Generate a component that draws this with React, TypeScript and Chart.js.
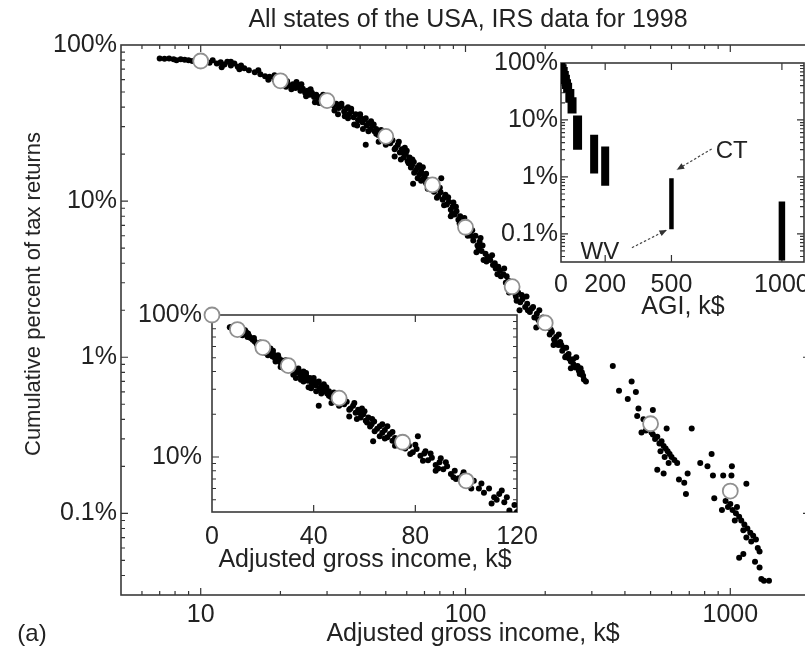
import React, { useEffect, useRef } from 'react';
import { Chart, registerables } from 'chart.js';

Chart.register(...registerables);

const FONT = "'Liberation Sans', Arial, Helvetica, sans-serif";
const INK = '#222';
const TICK_SIZE = 25;

// ---- State-level points (AGI k$, cumulative % of returns) ----
const mainX = [
  7.0, 7.3, 7.6, 7.9, 8.1, 8.4, 8.7, 9.0, 9.3, 9.6, 9.9,
  10.4, 10.8, 11.1, 11.5, 11.9, 12.3, 12.6, 13, 13.4, 13.8, 14.2, 14.6, 15.2, 16, 16.8, 17.5, 18.2, 19, 19.6,
  20.6, 21.2, 21.8, 22.3, 22.8, 23.3, 23.8, 24.3, 24.8, 25.3, 25.8, 26.3, 26.8, 27.3, 27.8, 28.3, 28.8, 29.4, 30.3, 24, 27, 22, 29,
  31, 31.8, 32.5, 33.2, 34, 34.8, 35.5, 36.3, 37, 37.8, 38.5, 39.3, 40, 40.8, 41.5, 42, 42.3, 43, 43.8, 44.5, 45.3, 46, 46.8, 47.5, 48.3, 49, 50.5, 51.3, 33, 36, 38, 44, 47, 35, 41,
  52, 53, 54, 54.5, 55.5, 56.5, 57.5, 58.5, 59.5, 60.5, 61.5, 62.2, 62.8, 63.4, 63.8, 65, 66, 67, 68, 69, 70, 71, 72, 73, 74.5, 76, 77.5, 56, 60, 66, 69, 58,
  79, 80.5, 81, 82, 83.5, 85, 86.5, 88, 89.5, 91, 92.5, 94, 95.5, 97, 98.5, 101, 103, 105, 84, 90, 96, 88,
  107, 109, 111, 113, 115, 117, 119, 121, 124, 127, 130, 133, 136, 139, 142, 145, 148, 110, 114, 126, 132, 140, 146,
  152, 155, 158, 161, 164, 168, 171, 175, 178, 182, 186, 190, 194, 198, 160, 170, 185, 190,
  204, 208, 212, 216, 220, 224, 228, 232, 236, 240, 245, 250, 255, 260, 265, 270, 275, 280, 285, 225, 250, 262, 215, 240, 272,
  12, 13, 14, 16.5, 18, 19, 21, 23, 25, 26, 28, 30, 32, 34, 36, 37, 39, 40, 42, 43, 45, 46, 48, 50, 52, 54, 57, 59, 61, 63, 64, 67, 68, 71, 72, 75, 78, 80, 83, 86, 89, 92, 95, 99, 102, 106, 112, 116, 120,
  129, 135, 143, 150, 156, 163, 172, 180, 188, 196, 202, 210, 218, 230, 238, 246, 256, 268, 278,
  360, 424, 440, 380, 410, 450, 510, 445, 462, 575, 715, 504, 470, 485, 495, 480,
  510, 520, 530, 540, 550, 560, 570, 580, 590, 600, 615, 630, 545, 565, 585, 530, 560, 640, 670, 690, 680,
  850, 770, 820, 1014, 860, 940, 1010, 1150, 870, 930,
  960, 980, 1000, 1020, 1050, 1080, 1100, 1130, 1160, 1190, 1220, 1250, 1040, 1120, 1200,
  1080, 1120, 1240, 1290, 1290, 1310, 1340, 990, 1060, 1150, 1270, 1400,
];
const mainY = [
  82, 81.5, 82, 81, 80, 81, 80.5, 80, 79, 80, 78.5,
  79, 77, 80, 76, 77.5, 75, 78, 74, 76, 72.5, 74, 71, 69, 67, 65, 63, 62.5, 60, 61,
  57, 58.5, 55, 56, 53, 54.5, 51, 52.5, 49.5, 51, 48, 49.5, 46.5, 48, 45, 46.5, 43.5, 45, 42.5, 56, 43, 52, 48,
  43.5, 41, 42, 39.5, 40.5, 37.5, 39, 36, 37.5, 34.5, 36, 33, 34.5, 32, 33.5, 23, 30.5, 31.5, 29, 30.5, 28, 29, 26.5, 28, 25.5, 27, 24.5, 25.5, 36, 40, 31, 32.5, 24, 35, 29,
  23.5, 24.5, 19.3, 22, 23, 20.5, 21.5, 19, 20, 18, 19, 16.4, 17, 12.9, 17.8, 15.8, 16.5, 14.8, 15.5, 13.8, 14.5, 13, 13.6, 12.2, 12.8, 11.5, 12, 24, 21, 14, 16.5, 20.5,
  10.8, 11.4, 14, 10.2, 10.6, 9.5, 9.9, 8.8, 9.2, 8.2, 8.6, 7.6, 8, 7.1, 7.4, 6.5, 6.8, 6.0, 11, 9.8, 7, 8,
  5.6, 6.0, 5.2, 5.5, 4.8, 4.2, 4.6, 4.4, 4.2, 3.9, 3.7, 3.8, 3.3, 3.4, 3.0, 3.1, 2.7, 4.7, 5.8, 4.5, 3.4, 3.7, 2.6,
  2.6, 2.45, 2.6, 2.25, 2.35, 2.1, 2.2, 1.95, 2.05, 1.8, 1.9, 1.7, 1.75, 1.55, 2.0, 2.45, 1.55, 2.0,
  1.55, 1.4, 1.45, 1.3, 1.35, 1.2, 1.25, 1.1, 1.15, 1.02, 1.05, 0.94, 0.97, 0.86, 0.88, 0.78, 0.8, 0.72, 0.7, 1.4, 0.85, 1.0, 1.2, 1.15, 0.85,
  72, 78, 70, 69, 60, 64, 54, 58, 47, 52, 42.5, 46, 38, 42, 34, 39, 30.5, 36, 34, 28, 31, 27, 28.5, 23, 26, 21.5, 18.5, 22, 17.5, 18.5, 15.2, 17, 13.5, 15, 12, 13.5, 10.5, 12.2, 9.4, 10.6, 8.3, 9.2, 7.2, 7.8, 6.0, 6.5, 5.0, 5.2, 4.1,
  4.0, 3.6, 3.3, 2.9, 2.3, 2.5, 2.0, 2.1, 1.75, 1.8, 1.65, 1.5, 1.25, 1.2, 1.0, 0.98, 0.9, 0.82, 0.76,
  0.88, 0.70, 0.60, 0.61, 0.54, 0.47, 0.46, 0.42, 0.33, 0.35, 0.35, 0.33, 0.40, 0.37, 0.36, 0.34,
  0.32, 0.30, 0.31, 0.28, 0.29, 0.27, 0.26, 0.25, 0.24, 0.23, 0.22, 0.21, 0.25, 0.23, 0.21, 0.19, 0.18, 0.165, 0.157, 0.18, 0.133,
  0.24, 0.21, 0.20, 0.20, 0.175, 0.175, 0.175, 0.155, 0.125, 0.105,
  0.12, 0.11, 0.115, 0.105, 0.1, 0.095, 0.09, 0.085, 0.08, 0.075, 0.072, 0.068, 0.09, 0.078, 0.066,
  0.052, 0.055, 0.049, 0.057, 0.045, 0.038, 0.037, 0.13, 0.11, 0.07, 0.06, 0.037,
];

// ---- US totals (open circles) ----
const usX = [0, 10, 20, 30, 50, 75, 100, 150, 200, 500, 1000];
const usY = [100, 79, 59, 44, 26, 12.7, 6.8, 2.83, 1.66, 0.375, 0.139];

// ---- Upper-right inset: spread over states at each AGI bin edge ----
const aggX = [0, 5, 10, 15, 20, 25, 30, 40, 50, 75, 150, 200, 500, 1000];
const aggHigh = [100, 95, 85, 72, 62, 52, 45, 35, 25, 12, 5.5, 3.4, 0.95, 0.37];
const aggLow = [88, 75, 60, 50, 42, 35, 30, 20, 13, 3, 1.15, 0.7, 0.12, 0.034];

// ---- tick labels ----
const mainXTicks = [10, 100, 1000];
const mainYTicks = [0.1, 1, 10, 100];
const linXTicks = [0, 40, 80, 120];
const linYTicks = [10, 100];
const agiXTicks = [0, 200, 500, 1000];
const agiYTicks = [0.1, 1, 10, 100];

const notes = [
  { text: 'CT', x: 773, y: 2.75, fromX: 682, fromY: 3.1, toX: 524, toY: 1.33 },
  { text: 'WV', x: 176, y: 0.048, fromX: 321, fromY: 0.057, toX: 479, toY: 0.117 },
];

const pct = (v: number) => `${v}%`;
const num = (v: number) => `${v}`;

function logMinor(min: number, max: number) {
  const out: number[] = [];
  for (let e = Math.floor(Math.log10(min)); e <= Math.ceil(Math.log10(max)); e++) {
    for (let m = 2; m <= 9; m++) {
      const v = m * Math.pow(10, e);
      if (v >= min && v <= max) out.push(v);
    }
  }
  return out;
}

const framePlugin = {
  id: 'frame',
  beforeDatasetsDraw(chart: any, _a: any, o: any) {
    const { ctx, chartArea: a } = chart;
    const sx = chart.scales.x, sy = chart.scales.y;
    ctx.save();
    if (o.bg) {
      ctx.fillStyle = '#fff';
      ctx.fillRect(a.left, a.top, a.right - a.left, a.bottom - a.top);
    }
    ctx.strokeStyle = '#333';
    ctx.lineWidth = 1.2;
    ctx.beginPath();
    const tx = (vals: number[], len: number) => {
      for (const v of vals) {
        const p = sx.getPixelForValue(v);
        if (p < a.left + 1 || p > a.right - 1) continue;
        ctx.moveTo(p, a.bottom); ctx.lineTo(p, a.bottom - len);
        ctx.moveTo(p, a.top); ctx.lineTo(p, a.top + len);
      }
    };
    const ty = (vals: number[], len: number) => {
      for (const v of vals) {
        const p = sy.getPixelForValue(v);
        if (p < a.top + 1 || p > a.bottom - 1) continue;
        ctx.moveTo(a.left, p); ctx.lineTo(a.left + len, p);
        ctx.moveTo(a.right, p); ctx.lineTo(a.right - len, p);
      }
    };
    tx(o.xMajor || [], 7); tx(o.xMinor || [], 4);
    ty(o.yMajor || [], 7); ty(o.yMinor || [], 4);
    ctx.stroke();
    ctx.lineWidth = 1.6;
    ctx.strokeStyle = '#3a3a3a';
    ctx.strokeRect(a.left, a.top, a.right - a.left, a.bottom - a.top);
    ctx.restore();
  },
};

const notePlugin = {
  id: 'notes',
  afterDatasetsDraw(chart: any, _a: any, o: any) {
    if (!o.items) return;
    const { ctx } = chart;
    const sx = chart.scales.x, sy = chart.scales.y;
    ctx.save();
    for (const n of o.items) {
      const x0 = sx.getPixelForValue(n.fromX), y0 = sy.getPixelForValue(n.fromY);
      const x1 = sx.getPixelForValue(n.toX), y1 = sy.getPixelForValue(n.toY);
      ctx.setLineDash([2.5, 2]);
      ctx.strokeStyle = '#444';
      ctx.lineWidth = 1.2;
      ctx.beginPath(); ctx.moveTo(x0, y0); ctx.lineTo(x1, y1); ctx.stroke();
      ctx.setLineDash([]);
      const ang = Math.atan2(y1 - y0, x1 - x0);
      ctx.fillStyle = '#333';
      ctx.beginPath();
      ctx.moveTo(x1, y1);
      ctx.lineTo(x1 - 8 * Math.cos(ang - 0.4), y1 - 8 * Math.sin(ang - 0.4));
      ctx.lineTo(x1 - 8 * Math.cos(ang + 0.4), y1 - 8 * Math.sin(ang + 0.4));
      ctx.closePath(); ctx.fill();
      ctx.font = `24px ${FONT}`;
      ctx.textAlign = 'center';
      ctx.textBaseline = 'middle';
      ctx.fillStyle = INK;
      ctx.fillText(n.text, sx.getPixelForValue(n.x), sy.getPixelForValue(n.y));
    }
    ctx.restore();
  },
};

function axis(type: string, min: number, max: number, ticks: number[], fmt: (v: number) => string, size: number, isX: boolean, pad: number) {
  return {
    type, min, max,
    grid: { display: false, drawTicks: false },
    border: { display: false },
    ticks: {
      color: INK,
      font: { family: FONT, size: TICK_SIZE },
      padding: pad,
      autoSkip: false,
      maxRotation: 0,
      minRotation: 0,
      callback: (v: any) => fmt(Number(v)),
    },
    afterBuildTicks: (s: any) => { s.ticks = ticks.map((v) => ({ value: v })); },
    afterFit: (s: any) => { if (isX) s.height = size; else s.width = size; },
  };
}

const pts = (xs: number[], ys: number[], keep: (x: number, y: number) => boolean) =>
  xs.map((x, i) => ({ x, y: ys[i] })).filter((p) => keep(p.x, p.y));

const baseOpts = (padding: any) => ({
  responsive: false,
  animation: false,
  events: [],
  layout: { padding },
});

const circleStyle = { pointRadius: 7.5, backgroundColor: '#fff', borderColor: '#909090', borderWidth: 1.8, order: 0 };
const dotStyle = { pointRadius: 3, backgroundColor: '#000', borderWidth: 0, order: 1 };

function mainConfig(): any {
  return {
    type: 'scatter',
    data: {
      datasets: [
        { data: pts(usX, usY, (x) => x > 0), ...circleStyle },
        { data: pts(mainX, mainY, () => true), ...dotStyle },
      ],
    },
    options: {
      ...baseOpts({ top: 45, right: 30, left: 0, bottom: 0 }),
      plugins: {
        legend: { display: false }, tooltip: { enabled: false },
        frame: { xMajor: mainXTicks, xMinor: logMinor(5, 2000), yMajor: mainYTicks, yMinor: logMinor(0.03, 100) },
      },
      scales: {
        x: axis('logarithmic', 5, 2000, mainXTicks, num, 57, true, 5),
        y: axis('logarithmic', 0.03, 100, mainYTicks, pct, 121, false, 4),
      },
    },
    plugins: [framePlugin],
  };
}

function linConfig(): any {
  return {
    type: 'scatter',
    data: {
      datasets: [
        { data: pts(usX, usY, (x) => x <= 120), ...circleStyle, clip: false },
        { data: pts(mainX, mainY, (x, y) => x <= 120 && y >= 4.1), ...dotStyle },
      ],
    },
    options: {
      ...baseOpts({ top: 22, right: 33, left: 0, bottom: 0 }),
      plugins: {
        legend: { display: false }, tooltip: { enabled: false },
        frame: { bg: true, xMajor: [40, 80], yMajor: [10], yMinor: logMinor(4.1, 100) },
      },
      scales: {
        x: axis('linear', 0, 120, linXTicks, num, 68, true, 10),
        y: axis('logarithmic', 4.1, 100, linYTicks, pct, 82, false, 10),
      },
    },
    plugins: [framePlugin],
  };
}

function agiConfig(): any {
  return {
    type: 'scatter',
    data: {
      datasets: aggX.map((x, i) => ({
        data: [{ x, y: aggHigh[i] }, { x, y: aggLow[i] }],
        showLine: true,
        borderColor: '#000',
        borderWidth: x <= 75 ? 9 : x === 500 ? 4.5 : x === 1000 ? 6.5 : 8,
        pointRadius: 0,
      })),
    },
    options: {
      ...baseOpts({ top: 23, right: 16, left: 0, bottom: 0 }),
      plugins: {
        legend: { display: false }, tooltip: { enabled: false },
        frame: { bg: true, xMajor: [200, 500, 1000], yMajor: agiYTicks, yMinor: logMinor(0.032, 100) },
        notes: { items: notes },
      },
      scales: {
        x: axis('linear', 0, 1100, agiXTicks, num, 68, true, 8),
        y: axis('logarithmic', 0.032, 100, agiYTicks, pct, 81, false, 3),
      },
    },
    plugins: [framePlugin, notePlugin],
  };
}

function ChartBox({ left, top, width, height, make }: any) {
  const ref = useRef<HTMLCanvasElement | null>(null);
  useEffect(() => {
    const c = new Chart(ref.current as HTMLCanvasElement, make());
    return () => c.destroy();
  }, []);
  return (
    <canvas ref={ref} width={width} height={height}
      style={{ position: 'absolute', left, top, width, height, display: 'block' }} />
  );
}

function Label({ x, y, children, rotate, size = 25 }: any) {
  return (
    <div style={{
      position: 'absolute', left: x, top: y,
      transform: `translate(-50%, -50%)${rotate ? ' rotate(-90deg)' : ''}`,
      font: `${size}px ${FONT}`, color: INK, whiteSpace: 'nowrap', lineHeight: 1,
    }}>{children}</div>
  );
}

export default function App() {
  return (
    <div style={{ position: 'fixed', left: 0, top: 0, width: 805, height: 652, overflow: 'hidden', background: '#fff' }}>
      <ChartBox left={0} top={0} width={840} height={652} make={mainConfig} />
      <ChartBox left={130} top={290} width={420} height={290} make={linConfig} />
      <ChartBox left={480} top={40} width={340} height={290} make={agiConfig} />
      <Label x={468} y={18}>All states of the USA, IRS data for 1998</Label>
      <Label x={473} y={632}>Adjusted gross income, k$</Label>
      <Label x={32} y={633} size={24}>(a)</Label>
      <Label x={33} y={294} rotate size={22}>Cumulative percent of tax returns</Label>
      <Label x={365} y={558}>Adjusted gross income, k$</Label>
      <Label x={683} y={305}>AGI, k$</Label>
    </div>
  );
}
